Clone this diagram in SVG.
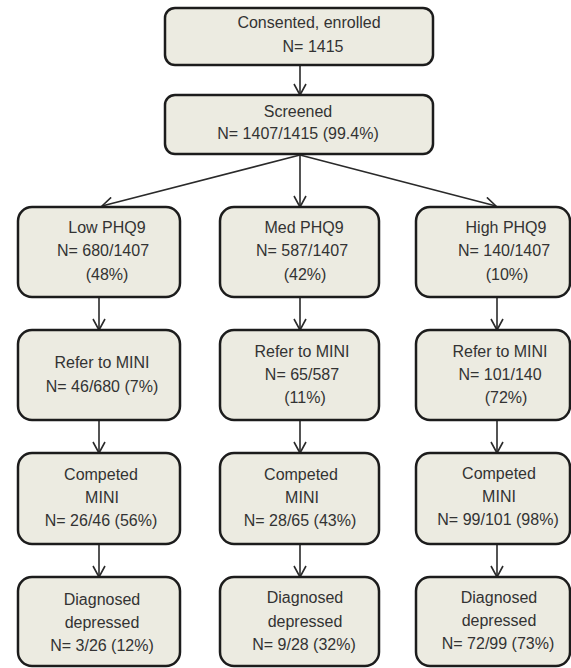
<svg xmlns="http://www.w3.org/2000/svg" width="571" height="668" viewBox="0 0 571 668">
<defs>
<style>
.box{fill:#ecebe1;stroke:#1c1c1c;stroke-width:2.5}
.t{font-family:"Liberation Sans",Arial,sans-serif;font-size:16px;fill:#333;text-anchor:middle}
.c{stroke:#2a2a2a;stroke-width:1.6;fill:none}
</style>
<marker id="ah" markerUnits="userSpaceOnUse" markerWidth="14" markerHeight="14" viewBox="0 0 14 14" refX="12" refY="7" orient="auto">
<path d="M1,1 L12,7 L1,13" fill="none" stroke="#2a2a2a" stroke-width="1.6"/>
</marker>
</defs>
<rect width="571" height="668" fill="#fff"/>
<g id="connectors">
<line class="c" x1="300" y1="65" x2="300" y2="95" marker-end="url(#ah)"/>
<line class="c" x1="300" y1="155" x2="102" y2="206" marker-end="url(#ah)"/>
<line class="c" x1="300" y1="155" x2="300" y2="207" marker-end="url(#ah)"/>
<line class="c" x1="300" y1="155" x2="496" y2="206" marker-end="url(#ah)"/>
<line class="c" x1="99" y1="297" x2="99" y2="330" marker-end="url(#ah)"/>
<line class="c" x1="99" y1="420" x2="99" y2="453" marker-end="url(#ah)"/>
<line class="c" x1="99" y1="544" x2="99" y2="577" marker-end="url(#ah)"/>
<line class="c" x1="300" y1="297" x2="300" y2="330" marker-end="url(#ah)"/>
<line class="c" x1="300" y1="420" x2="300" y2="453" marker-end="url(#ah)"/>
<line class="c" x1="300" y1="544" x2="300" y2="577" marker-end="url(#ah)"/>
<line class="c" x1="497" y1="297" x2="497" y2="330" marker-end="url(#ah)"/>
<line class="c" x1="497" y1="420" x2="497" y2="453" marker-end="url(#ah)"/>
<line class="c" x1="497" y1="544" x2="497" y2="577" marker-end="url(#ah)"/>
</g>
<g id="consented">
<rect class="box" x="165" y="8" width="268" height="57" rx="10"/>
<text class="t" x="309" y="28">Consented, enrolled</text>
<text class="t" x="313" y="52">N= 1415</text>
</g>
<g id="screened">
<rect class="box" x="165" y="95" width="268" height="59" rx="10"/>
<text class="t" x="298" y="117">Screened</text>
<text class="t" x="298" y="139">N= 1407/1415 (99.4%)</text>
</g>
<g id="low">
<rect class="box" x="18" y="207" width="162" height="90" rx="14"/>
<text class="t" x="107" y="233">Low PHQ9</text>
<text class="t" x="103" y="256">N= 680/1407</text>
<text class="t" x="107" y="280">(48%)</text>
</g>
<g id="med">
<rect class="box" x="220" y="207" width="159" height="90" rx="14"/>
<text class="t" x="304" y="233">Med PHQ9</text>
<text class="t" x="302" y="256">N= 587/1407</text>
<text class="t" x="305" y="280">(42%)</text>
</g>
<g id="high">
<rect class="box" x="416" y="207" width="154" height="90" rx="14"/>
<text class="t" x="506" y="233">High PHQ9</text>
<text class="t" x="504" y="256">N= 140/1407</text>
<text class="t" x="507" y="280">(10%)</text>
</g>
<g id="low-refer">
<rect class="box" x="18" y="330" width="162" height="90" rx="14"/>
<text class="t" x="102" y="368">Refer to MINI</text>
<text class="t" x="102" y="392">N= 46/680 (7%)</text>
</g>
<g id="med-refer">
<rect class="box" x="220" y="330" width="159" height="90" rx="14"/>
<text class="t" x="302" y="357">Refer to MINI</text>
<text class="t" x="302" y="380">N= 65/587</text>
<text class="t" x="305" y="403">(11%)</text>
</g>
<g id="high-refer">
<rect class="box" x="416" y="330" width="154" height="90" rx="14"/>
<text class="t" x="500" y="357">Refer to MINI</text>
<text class="t" x="500" y="380">N= 101/140</text>
<text class="t" x="506" y="403">(72%)</text>
</g>
<g id="low-completed">
<rect class="box" x="18" y="453" width="162" height="91" rx="14"/>
<text class="t" x="101" y="480">Competed</text>
<text class="t" x="102" y="503">MINI</text>
<text class="t" x="101" y="526">N= 26/46 (56%)</text>
</g>
<g id="med-completed">
<rect class="box" x="220" y="453" width="159" height="91" rx="14"/>
<text class="t" x="301" y="480">Competed</text>
<text class="t" x="302" y="503">MINI</text>
<text class="t" x="300" y="526">N= 28/65 (43%)</text>
</g>
<g id="high-completed">
<rect class="box" x="416" y="453" width="154" height="91" rx="14"/>
<text class="t" x="499" y="479">Competed</text>
<text class="t" x="499" y="502">MINI</text>
<text class="t" x="498" y="525">N= 99/101 (98%)</text>
</g>
<g id="low-diagnosed">
<rect class="box" x="18" y="577" width="162" height="89" rx="14"/>
<text class="t" x="102" y="605">Diagnosed</text>
<text class="t" x="102" y="628">depressed</text>
<text class="t" x="102" y="651">N= 3/26 (12%)</text>
</g>
<g id="med-diagnosed">
<rect class="box" x="220" y="577" width="159" height="89" rx="14"/>
<text class="t" x="305" y="603">Diagnosed</text>
<text class="t" x="305" y="627">depressed</text>
<text class="t" x="304" y="650">N= 9/28 (32%)</text>
</g>
<g id="high-diagnosed">
<rect class="box" x="416" y="577" width="154" height="89" rx="14"/>
<text class="t" x="499" y="603">Diagnosed</text>
<text class="t" x="499" y="626">depressed</text>
<text class="t" x="498" y="649">N= 72/99 (73%)</text>
</g>
</svg>
